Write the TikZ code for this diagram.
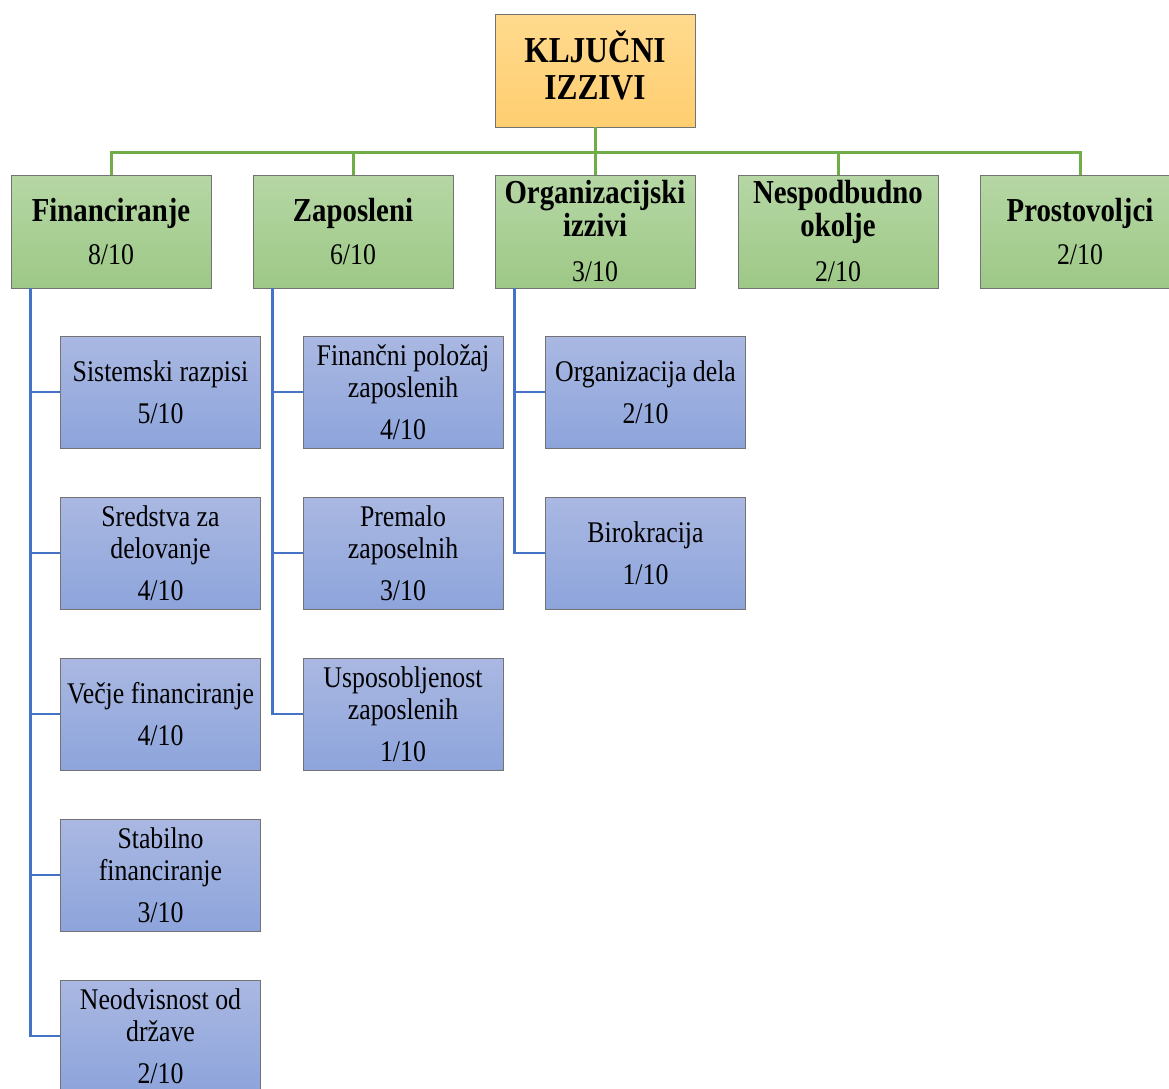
\documentclass[tikz,border=0pt]{standalone}
\usepackage{fontspec}
\setmainfont{Liberation Serif}[FakeStretch=0.86]
\definecolor{gline}{RGB}{112,173,71}
\definecolor{bline}{RGB}{68,114,196}
\definecolor{gtop}{RGB}{182,215,165}
\definecolor{gbot}{RGB}{157,200,134}
\definecolor{btop}{RGB}{170,184,226}
\definecolor{bbot}{RGB}{141,164,219}
\definecolor{otop}{RGB}{255,218,142}
\definecolor{obot}{RGB}{255,206,112}
\newcommand{\ttl}[1]{{\fontsize{33.5}{33}\selectfont\bfseries #1}}
\begin{document}
\begin{tikzpicture}[x=1pt,y=-1pt,
  boxbase/.style={draw=black!55, line width=0.8pt, inner sep=0pt, align=center,
    minimum width=200pt, text=black},
  lvlzero/.style={boxbase, top color=otop, bottom color=obot, minimum height=113pt},
  toptext/.style={inner sep=0pt, align=center, font=\fontsize{36.5}{37}\selectfont\bfseries},
  lvlone/.style={boxbase, top color=gtop, bottom color=gbot, minimum height=113pt,
    font=\fontsize{30}{33}\selectfont},
  lvltwo/.style={boxbase, top color=btop, bottom color=bbot, minimum height=112pt,
    font=\fontsize{30}{32}\selectfont},
  gconn/.style={gline, line width=3pt},
  bconn/.style={bline, line width=2.6pt}
]
\useasboundingbox (0,0) rectangle (1169,1088);
\clip (0,0) rectangle (1169,1088);

% top
\node[lvlzero] (top) at (595,70.5) {};
\node[toptext] (toplabel) at ([yshift=5pt]top.center) {KLJUČNI\\IZZIVI};

% level one
\node[lvlone] (fin) at (111,231.5) {\ttl{Financiranje}\\[10pt]8/10};
\node[lvlone] (zap) at (353,231.5) {\ttl{Zaposleni}\\[10pt]6/10};
\node[lvlone] (org) at (595,231.5) {\ttl{Organizacijski}\\\ttl{izzivi}\\[12pt]3/10};
\node[lvlone] (nes) at (838,231.5) {\ttl{Nespodbudno}\\\ttl{okolje}\\[12pt]2/10};
\node[lvlone] (pro) at (1080,231.5) {\ttl{Prostovoljci}\\[10pt]2/10};

% level two: Financiranje
\node[lvltwo] (f1) at (160.5,392) {Sistemski razpisi\\[10pt]5/10};
\node[lvltwo] (f2) at (160.5,553) {Sredstva za\\delovanje\\[10pt]4/10};
\node[lvltwo] (f3) at (160.5,714) {Večje financiranje\\[10pt]4/10};
\node[lvltwo] (f4) at (160.5,875) {Stabilno\\financiranje\\[10pt]3/10};
\node[lvltwo] (f5) at (160.5,1036) {Neodvisnost od\\države\\[10pt]2/10};

% level two: Zaposleni
\node[lvltwo] (z1) at (403,392) {Finančni položaj\\zaposlenih\\[10pt]4/10};
\node[lvltwo] (z2) at (403,553) {Premalo\\zaposelnih\\[10pt]3/10};
\node[lvltwo] (z3) at (403,714) {Usposobljenost\\zaposlenih\\[10pt]1/10};

% level two: Organizacijski izzivi
\node[lvltwo] (o1) at (645.5,392) {Organizacija dela\\[10pt]2/10};
\node[lvltwo] (o2) at (645.5,553) {Birokracija\\[10pt]1/10};

% green connectors
\coordinate (hub) at (595,152);
\draw[gconn] (top.south) -- (hub);
\foreach \n in {fin,zap,org,nes,pro}{
  \draw[gconn] (hub) -| (\n.north);
}

% blue connectors
\foreach \n in {f1,f2,f3,f4,f5}{
  \draw[bconn] ([xshift=20pt]fin.south west) |- (\n.west);
}
\foreach \n in {z1,z2,z3}{
  \draw[bconn] ([xshift=20pt]zap.south west) |- (\n.west);
}
\foreach \n in {o1,o2}{
  \draw[bconn] ([xshift=20pt]org.south west) |- (\n.west);
}
\end{tikzpicture}
\end{document}
